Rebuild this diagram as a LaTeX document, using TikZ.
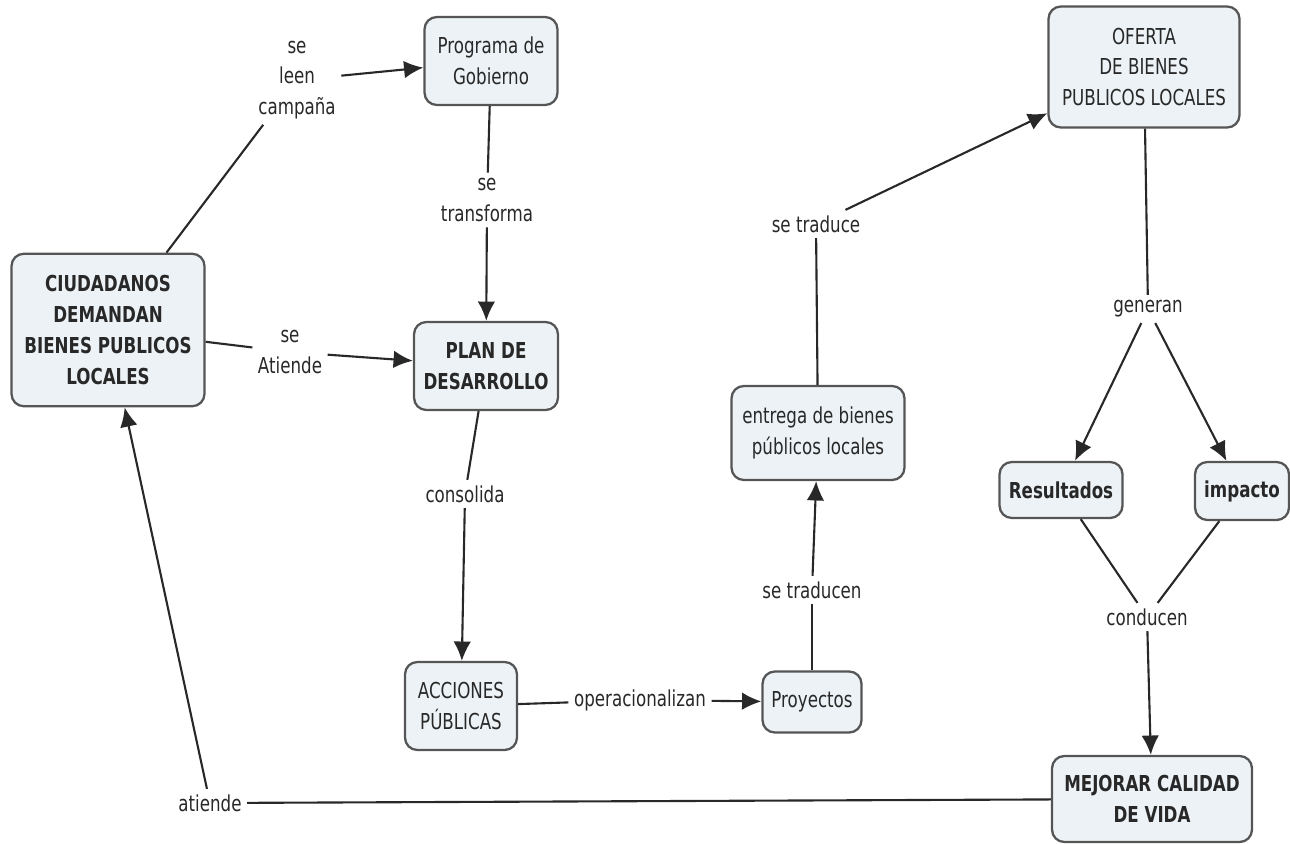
\documentclass[tikz,border=0pt]{standalone}
\usepackage{fontspec}
\setmainfont{DejaVu Sans}[FakeStretch=0.76]
\usepackage{tikz}
\usetikzlibrary{arrows.meta}
\definecolor{boxfill}{RGB}{236,242,245}
\definecolor{boxline}{RGB}{85,85,85}
\definecolor{inkgray}{RGB}{40,40,40}
\tikzset{
  concept/.style={draw=boxline, line width=1.3pt, fill=boxfill, rounded corners=7pt,
    align=center, text=inkgray, inner sep=2pt, font=\fontsize{12.5}{17.5}\selectfont},
  keyconcept/.style={concept, font=\bfseries\fontsize{12.5}{17.5}\selectfont},
  linkword/.style={align=center, text=inkgray, inner sep=3pt, font=\fontsize{12.5}{17.5}\selectfont},
  link/.style={draw=inkgray, line width=1.2pt},
  linkto/.style={link, -{Latex[length=11pt,width=10pt]}}
}
\begin{document}
\begin{tikzpicture}[x=0.02cm,y=-0.02cm]
\useasboundingbox (0,0) rectangle (1290,844);
% conceptos
\node[keyconcept, minimum width=3.86cm, minimum height=3.05cm] (ciud) at (108,330) {CIUDADANOS\\DEMANDAN\\BIENES PUBLICOS\\LOCALES};
\node[concept, minimum width=2.66cm, minimum height=1.76cm] (prog) at (491,61) {Programa de\\Gobierno};
\node[keyconcept, minimum width=2.88cm, minimum height=1.76cm] (plan) at (486,366) {PLAN DE\\DESARROLLO};
\node[concept, minimum width=2.24cm, minimum height=1.76cm] (acc) at (461,706) {ACCIONES\\PÚBLICAS};
\node[concept, minimum width=1.98cm, minimum height=1.22cm] (proy) at (812,702) {Proyectos};
\node[concept, minimum width=3.46cm, minimum height=1.88cm] (entr) at (818,433) {entrega de bienes\\públicos locales};
\node[concept, minimum width=3.82cm, minimum height=2.42cm] (ofer) at (1144,67) {OFERTA\\DE BIENES\\PUBLICOS LOCALES};
\node[keyconcept, minimum width=2.46cm, minimum height=1.12cm] (res) at (1061,490) {Resultados};
\node[keyconcept, minimum width=1.88cm, minimum height=1.16cm] (imp) at (1242,491) {impacto};
\node[keyconcept, minimum width=4.0cm, minimum height=1.72cm] (mej) at (1152,799) {MEJORAR CALIDAD\\DE VIDA};
% palabras de enlace
\node[linkword] (leen) at (297,80) {se\\leen\\campaña};
\node[linkword] (transf) at (487,200) {se\\transforma};
\node[linkword] (atien) at (290,352) {se\\Atiende};
\node[linkword] (cons) at (465,494) {consolida};
\node[linkword] (oper) at (640,700) {operacionalizan};
\node[linkword] (tradn) at (812,590) {se traducen};
\node[linkword] (trad) at (816,224) {se traduce};
\node[linkword] (gen) at (1148,309) {generan};
\node[linkword] (cond) at (1147,617) {conducen};
\node[linkword] (ati) at (210,803) {atiende};
% enlaces
\draw[link] (ciud) -- (leen);
\draw[linkto] (leen) -- (prog);
\draw[link] (prog) -- (transf);
\draw[linkto] (transf) -- (plan);
\draw[link] (ciud) -- (atien);
\draw[linkto] (atien) -- (plan);
\draw[link] (plan) -- (cons);
\draw[linkto] (cons) -- (acc);
\draw[link] (acc) -- (oper);
\draw[linkto] (oper) -- (proy);
\draw[link] (proy) -- (tradn);
\draw[linkto] (tradn) -- (entr);
\draw[link] (entr) -- (trad);
\draw[linkto] (trad) -- (ofer);
\draw[link] (ofer) -- (gen);
\draw[linkto] (gen) -- (res);
\draw[linkto] (gen) -- (imp);
\draw[link] (res) -- (cond);
\draw[link] (imp) -- (cond);
\draw[linkto] (cond) -- (mej);
\draw[link] (mej) -- (ati);
\draw[linkto] (ati) -- (ciud);
\end{tikzpicture}
\end{document}
